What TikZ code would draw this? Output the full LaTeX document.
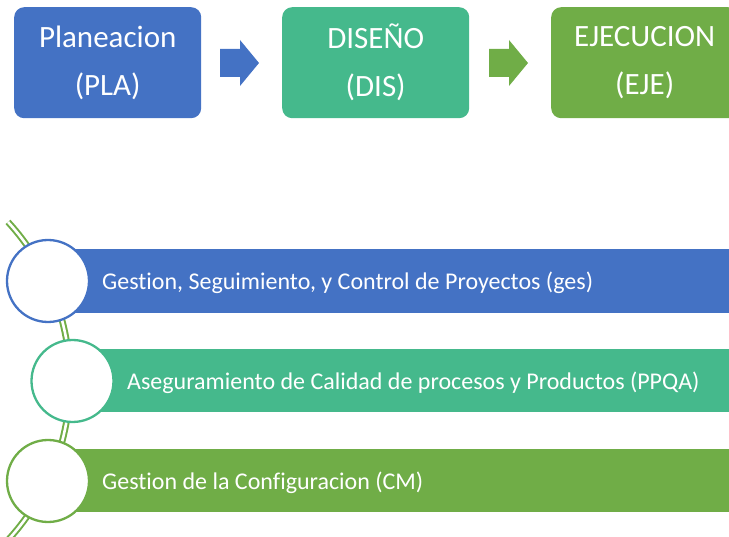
\documentclass[tikz,border=0pt]{standalone}
\usepackage{fontspec}
\setmainfont{Carlito}[Ligatures=NoCommon]
\definecolor{cblue}{RGB}{68,114,196}
\definecolor{cteal}{RGB}{69,185,140}
\definecolor{cgreen}{RGB}{112,173,71}
\begin{document}
\begin{tikzpicture}[x=1pt,y=-1pt,
  phase/.style={rounded corners=10pt, minimum width=187pt, minimum height=111pt, inner sep=0pt,
    text=white, align=center, font=\fontsize{31}{48}\selectfont, anchor=north west},
  bartext/.style={text=white, font=\fontsize{24}{28}\selectfont, anchor=west, inner sep=0pt},
  ring/.style={circle, draw, line width=2.3pt, fill=white, minimum size=82pt, inner sep=0pt}]
\useasboundingbox (0,0) rectangle (729,537);
\clip (0,0) rectangle (729,537);
% top row
\node[phase, fill=cblue] (pla) at (14,7) {Planeacion\\(PLA)};
\node[phase, fill=cteal] (dis) at (282,7) {DISEÑO\\(DIS)};
\node[phase, fill=cgreen] (eje) at (551,7) {EJECUCION\\(EJE)};
\fill[cblue] (220,49) -- (240,49) -- (240,40) -- (259,63) -- (240,86) -- (240,77) -- (220,77) -- cycle;
\fill[cgreen] (489,49) -- (509,49) -- (509,40) -- (528,63) -- (509,86) -- (509,77) -- (489,77) -- cycle;
% chain arc
\draw[cgreen, line width=2pt, double=white, double distance=2.6pt]
  ([shift={(-165,381)}]42.6:235pt) arc[start angle=42.6, end angle=-45, radius=235pt];
% bars
\fill[cblue] (48,249) rectangle (729,313);
\fill[cteal] (72,349) rectangle (729,412);
\fill[cgreen] (48,449) rectangle (729,512);
\node[bartext] (t1) at (102,283) {Gestion, Seguimiento, y Control de Proyectos (ges)};
\node[bartext] (t2) at (127,383) {Aseguramiento de Calidad de procesos y Productos (PPQA)};
\node[bartext] (t3) at (102,483) {Gestion de la Configuracion (CM)};
% circles
\node[ring, draw=cblue] (c1) at (48,281) {};
\node[ring, draw=cteal] (c2) at (72.5,381) {};
\node[ring, draw=cgreen] (c3) at (48,481) {};
\end{tikzpicture}
\end{document}
